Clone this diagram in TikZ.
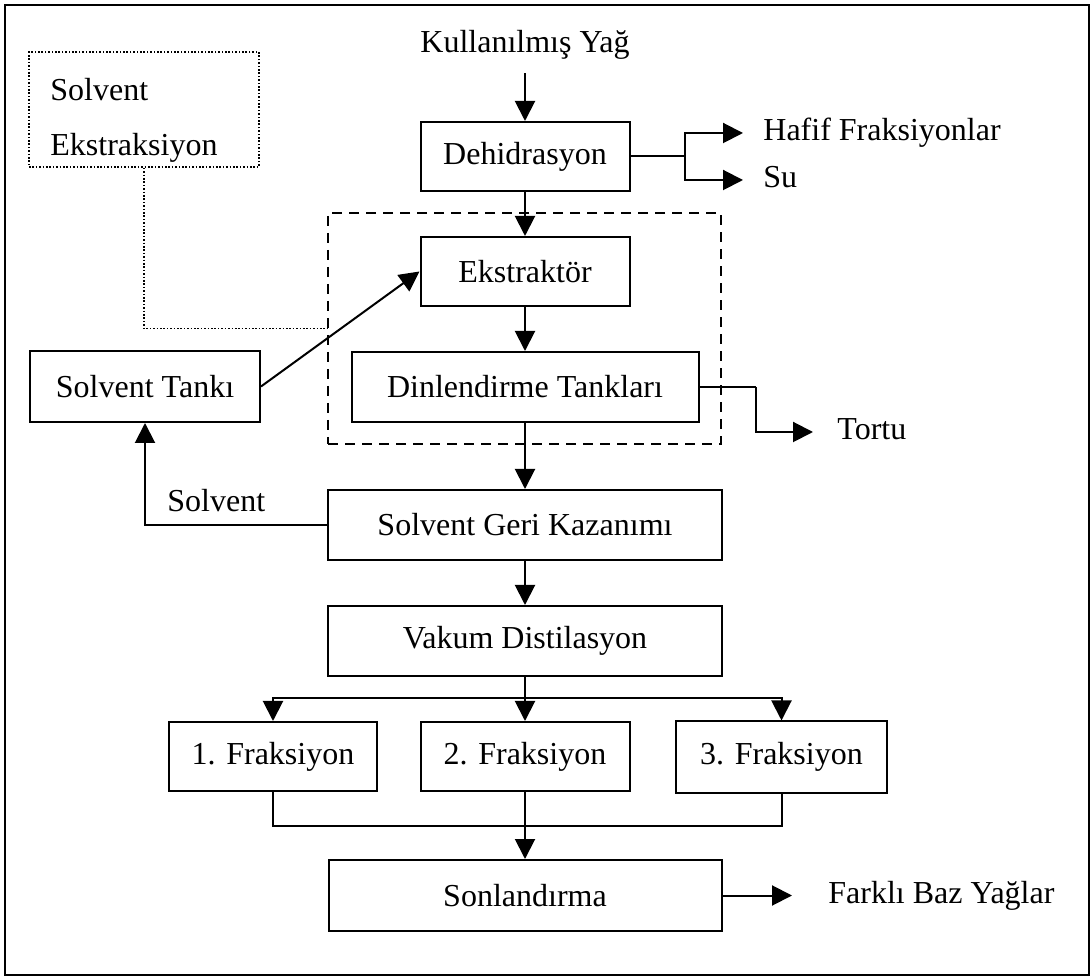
\documentclass[tikz,border=0pt]{standalone}
\usepackage{fontspec}
\setmainfont{Liberation Serif}
\usetikzlibrary{arrows.meta, positioning, calc}
\tikzset{
  kutu/.style = {draw=black, fill=white, rectangle, inner sep=0pt,
    line width=1pt},
  nkutu/.style = {draw=black, rectangle, inner sep=0pt, line width=0.8pt,
    dash pattern=on 0.8pt off 0.9pt},
  gkutu/.style = {draw=black, rectangle, inner sep=0pt, line width=1.1pt,
    dash pattern=on 5pt off 3.5pt},
  etk/.style = {inner sep=0pt, text height=1em, text depth=0.2em},
  cizgi/.style = {draw=black, line width=1pt},
  ok/.style = {cizgi, -{Triangle[length=10pt, width=10pt]}},
  nok/.style = {draw=black, line width=0.8pt, dash pattern=on 0.8pt off 0.9pt}
}

\begin{document}
\begin{tikzpicture}[x=0.5pt, y=-0.5pt, font=\fontsize{16}{19}\selectfont]
  \useasboundingbox (0,0) rectangle (1092,977);
  \draw [line width=1pt] (5,5) rectangle (1089,975);
  \node [gkutu, minimum width=196.5pt, minimum height=115.5pt] (grp) at (524.5,328.5) {};
  \node [nkutu, minimum width=115pt, minimum height=57.5pt] (solvext) at (144,109.5) {};
  \node [inner sep=0pt, anchor=north west, align=left,
    font=\fontsize{16}{27.5}\selectfont] (solvtxt) at (50,78) {Solvent\\Ekstraksiyon};
  \node [etk, anchor=base] (kyag) at (525,53) {Kullanılmış Yağ};
  \node [kutu, minimum width=104.5pt, minimum height=34.5pt] (dehid) at (525,156.5) {Dehidrasyon};
  \node [etk, anchor=west] (hafif) at (763,133) {Hafif Fraksiyonlar};
  \node [etk, anchor=west] (su) at (763,180) {Su};
  \node [kutu, minimum width=104.5pt, minimum height=34.5pt] (ekstr) at (525,271.5) {Ekstraktör};
  \node [kutu, minimum width=115pt, minimum height=35.5pt] (stank) at (145,386.5) {Solvent Tankı};
  \node [kutu, minimum width=173.5pt, minimum height=35pt] (dinlen) at (525,387) {Dinlendirme Tankları};
  \node [etk, anchor=west] (tortu) at (837,432) {Tortu};
  \node [kutu, minimum width=197pt, minimum height=35pt] (geri) at (525,525) {Solvent Geri Kazanımı};
  \node [etk, anchor=base west] (solv) at (167,512) {Solvent};
  \node [kutu, minimum width=197pt, minimum height=35pt] (vakum) at (525,641) {Vakum Distilasyon};
  \node [kutu, minimum width=104pt, minimum height=34.5pt] (f1) at (273,756.5) {1. Fraksiyon};
  \node [kutu, minimum width=104.5pt, minimum height=34.5pt] (f2) at (525,756.5) {2. Fraksiyon};
  \node [kutu, minimum width=105.5pt, minimum height=35.5pt] (f3) at (781.5,757) {3. Fraksiyon};
  \node [kutu, minimum width=196.5pt, minimum height=35.5pt] (sonl) at (525,895.5) {Sonlandırma};
  \node [etk, anchor=west] (farkli) at (828,895.5) {Farklı Baz Yağlar};
  \coordinate (jd) at (685,156.5);
  \coordinate (jt) at (756,387);
  \coordinate (br) at (525,698);
  \coordinate (mg) at (525,826);
  \draw [ok, shorten <=8pt] (kyag.south) -- (dehid.north);
  \draw [ok] (dehid.south) -- (ekstr.north);
  \draw [cizgi] (dehid.east) -- (jd);
  \draw [ok] (jd) |- ([xshift=-10pt]hafif.west);
  \draw [ok] (jd) |- ([xshift=-10pt]su.west);
  \draw [ok] (ekstr.south) -- (dinlen.north);
  \draw [ok] (stank.east) -- (ekstr.west);
  \draw [nok] (solvext.south) |- (grp.west);
  \draw [cizgi] (dinlen.east) -- (jt);
  \draw [ok] (jt) |- ([xshift=-12pt]tortu.west);
  \draw [ok] (dinlen.south) -- (geri.north);
  \draw [ok] (geri.west) -| (stank.south);
  \draw [ok] (geri.south) -- (vakum.north);
  \draw [cizgi] (vakum.south) -- (br);
  \draw [ok] (br) -| (f1.north);
  \draw [ok] (br) -- (f2.north);
  \draw [ok] (br) -| (f3.north);
  \draw [cizgi] (f1.south) |- (mg);
  \draw [cizgi] (f3.south) |- (mg);
  \draw [ok] (f2.south) -- (sonl.north);
  \draw [ok] (sonl.east) -- ([xshift=-18pt]farkli.west);
\end{tikzpicture}
\end{document}
